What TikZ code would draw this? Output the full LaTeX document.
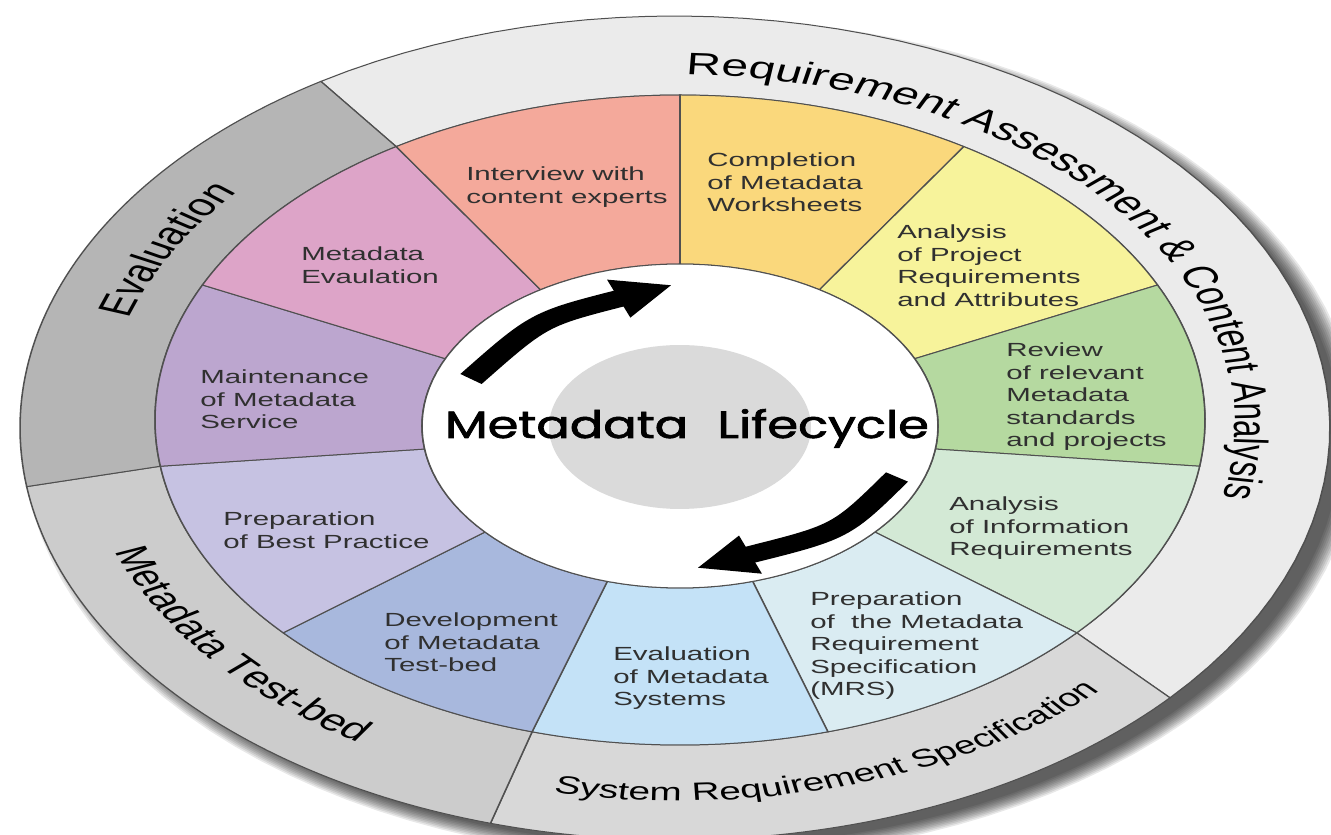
\documentclass[tikz,border=0pt]{standalone}
\usepackage{fontspec}
\setmainfont{Liberation Sans}
\newfontfamily\lsans{Liberation Sans}
\newfontfamily\titlefont[FakeStretch=0.84, FakeBold=1.5]{Poppins}
\usetikzlibrary{arrows.meta,decorations.text}

\definecolor{cInterview}{HTML}{F4A99B}
\definecolor{cCompletion}{HTML}{FAD87C}
\definecolor{cProject}{HTML}{F7F39B}
\definecolor{cReview}{HTML}{B5D9A0}
\definecolor{cInfo}{HTML}{D3E9D5}
\definecolor{cMRS}{HTML}{DAECF2}
\definecolor{cSystems}{HTML}{C4E2F7}
\definecolor{cDevel}{HTML}{A8B8DD}
\definecolor{cBest}{HTML}{C6C2E2}
\definecolor{cMaint}{HTML}{BCA6CF}
\definecolor{cMEval}{HTML}{DDA4C8}
\definecolor{rReq}{HTML}{EBEBEB}
\definecolor{rSys}{HTML}{D8D8D8}
\definecolor{rTest}{HTML}{CCCCCC}
\definecolor{rEval}{HTML}{B5B5B5}
\definecolor{segline}{HTML}{505050}
\definecolor{labtext}{HTML}{303030}
\definecolor{centergray}{HTML}{DADADA}

\newcommand{\mdLabFont}{\lsans\fontsize{19}{22.5}\selectfont}
\newcommand{\mdRingA}{\lsans\fontsize{31}{31}\selectfont}
\newcommand{\mdRingB}{\lsans\fontsize{30}{30}\selectfont}
\newcommand{\mdRingC}{\lsans\fontsize{25}{25}\selectfont}
\newcommand{\mdTitleFont}{\titlefont\fontsize{38}{38}\selectfont}

\tikzset{
  segborder/.style={draw=segline, line width=1pt},
  seglabel/.style={anchor=north west, inner sep=0pt, align=left, text=labtext, font=\mdLabFont},
  cycarrow/.style={line width=17pt, -{Triangle[length=37pt,width=38pt]}},
}

\newcommand{\mdSeg}[3]{%
  \filldraw[segborder, fill=#1]
    plot[domain=#2:#3, samples=40] ({680+525*cos(\x)},{415+325*sin(\x)})
    -- plot[domain=#3:#2, samples=40] ({680+258*cos(\x)},{409+162*sin(\x)})
    -- cycle;}
\newcommand{\mdRing}[3]{%
  \filldraw[segborder, fill=#1]
    plot[domain=#2:#3, samples=60] ({675+655*cos(\x)},{407+412*sin(\x)})
    -- plot[domain=#3:#2, samples=60] ({680+525*cos(\x)},{415+325*sin(\x)})
    -- cycle;}

\begin{document}
\begin{tikzpicture}[x=1pt, y=1pt]
\useasboundingbox (0,0) rectangle (1331,835);
\clip (0,0) rectangle (1331,835);
\fill[white] (0,0) rectangle (1331,835);
\begin{scope}[transform canvas={xscale=1.55}, x=0.645161pt, y=1pt]
  % drop shadow
  \foreach \i in {0,...,9}
    \fill[black, opacity=0.09] plot[domain=0:360, samples=120]
      ({691+(668-2*\i)*cos(\x)},{396+(421-1.5*\i)*sin(\x)}) -- cycle;
  % outer ring
  \mdRing{rReq}{122.727}{-40.909}
  \mdRing{rSys}{-40.909}{-106.364}
  \mdRing{rTest}{-106.364}{-171.818}
  \mdRing{rEval}{-171.818}{-237.273}
  % coloured ring
  \mdSeg{cCompletion}{90}{57.273}
  \mdSeg{cProject}{57.273}{24.545}
  \mdSeg{cReview}{24.545}{-8.182}
  \mdSeg{cInfo}{-8.182}{-40.909}
  \mdSeg{cMRS}{-40.909}{-73.636}
  \mdSeg{cSystems}{-73.636}{-106.364}
  \mdSeg{cDevel}{-106.364}{-139.091}
  \mdSeg{cBest}{-139.091}{-171.818}
  \mdSeg{cMaint}{-171.818}{-204.545}
  \mdSeg{cMEval}{-204.545}{-237.273}
  \mdSeg{cInterview}{-237.273}{-270}
  % inner white disc and grey centre
  \filldraw[segborder, fill=white] plot[domain=0:360, samples=120]
    ({680+258*cos(\x)},{409+162*sin(\x)}) -- cycle;
  \fill[centergray] plot[domain=0:360, samples=100]
    ({680+131*cos(\x)},{408+82*sin(\x)}) -- cycle;
  % arrows
  \coordinate (a1s) at (471,456);
  \coordinate (a1c) at (539,516);
  \coordinate (a1e) at (672,550);
  \coordinate (a2s) at (897,358);
  \coordinate (a2c) at (841,303);
  \coordinate (a2e) at (697,267);
  \draw[cycarrow] (a1s) .. controls (a1c) .. (a1e);
  \draw[cycarrow] (a2s) .. controls (a2c) .. (a2e);
  % title
  \node[anchor=base, inner sep=0pt, font=\mdTitleFont] (title) at (687,397) {Metadata\hspace{0.5em}Lifecycle};
  % segment labels
  \node[seglabel] (interview) at (466,668) {Interview with\\content experts};
  \node[seglabel] (completion) at (707,682) {Completion\\of Metadata\\Worksheets};
  \node[seglabel] (project) at (897,610) {Analysis\\of Project\\Requirements\\and Attributes};
  \node[seglabel] (review) at (1006,492) {Review\\of relevant\\Metadata\\standards\\and projects};
  \node[seglabel] (info) at (949,338) {Analysis\\of Information\\Requirements};
  \node[seglabel] (mrs) at (810,243) {Preparation\\of\ \ the Metadata\\Requirement\\Specification\\(MRS)};
  \node[seglabel] (systems) at (613,188) {Evaluation\\of Metadata\\Systems};
  \node[seglabel] (devel) at (384,222) {Development\\of Metadata\\Test-bed};
  \node[seglabel] (best) at (223,323) {Preparation\\of Best Practice};
  \node[seglabel] (maint) at (200,465) {Maintenance\\of Metadata\\Service};
  \node[seglabel] (meval) at (301,588) {Metadata\\Evaulation};
  % ring texts
  \path[decorate, decoration={text along path, text align=center,
      text={|\mdRingA|Requirement Assessment {\&} Content Analysis}}]
    plot[domain=98.5:-21.5, samples=100] ({678+557*cos(\x)},{410+350*sin(\x)});
  \path[decorate, decoration={text along path, text align=center,
      text={|\mdRingA|Evaluation}}]
    plot[domain=170:133, samples=60] ({678+575*cos(\x)},{410+362*sin(\x)});
  \path[decorate, decoration={text along path, text align=center,
      text={|\mdRingB|Metadata  Test-bed}}]
    plot[domain=190:247.2, samples=60] ({678+598*cos(\x)},{410+376*sin(\x)});
  \path[decorate, decoration={text along path, text align=center,
      text={|\mdRingC|System Requirement Specification}}]
    plot[domain=248:325, samples=80] ({678+598*cos(\x)},{410+376*sin(\x)});
\end{scope}
\end{tikzpicture}
\end{document}
